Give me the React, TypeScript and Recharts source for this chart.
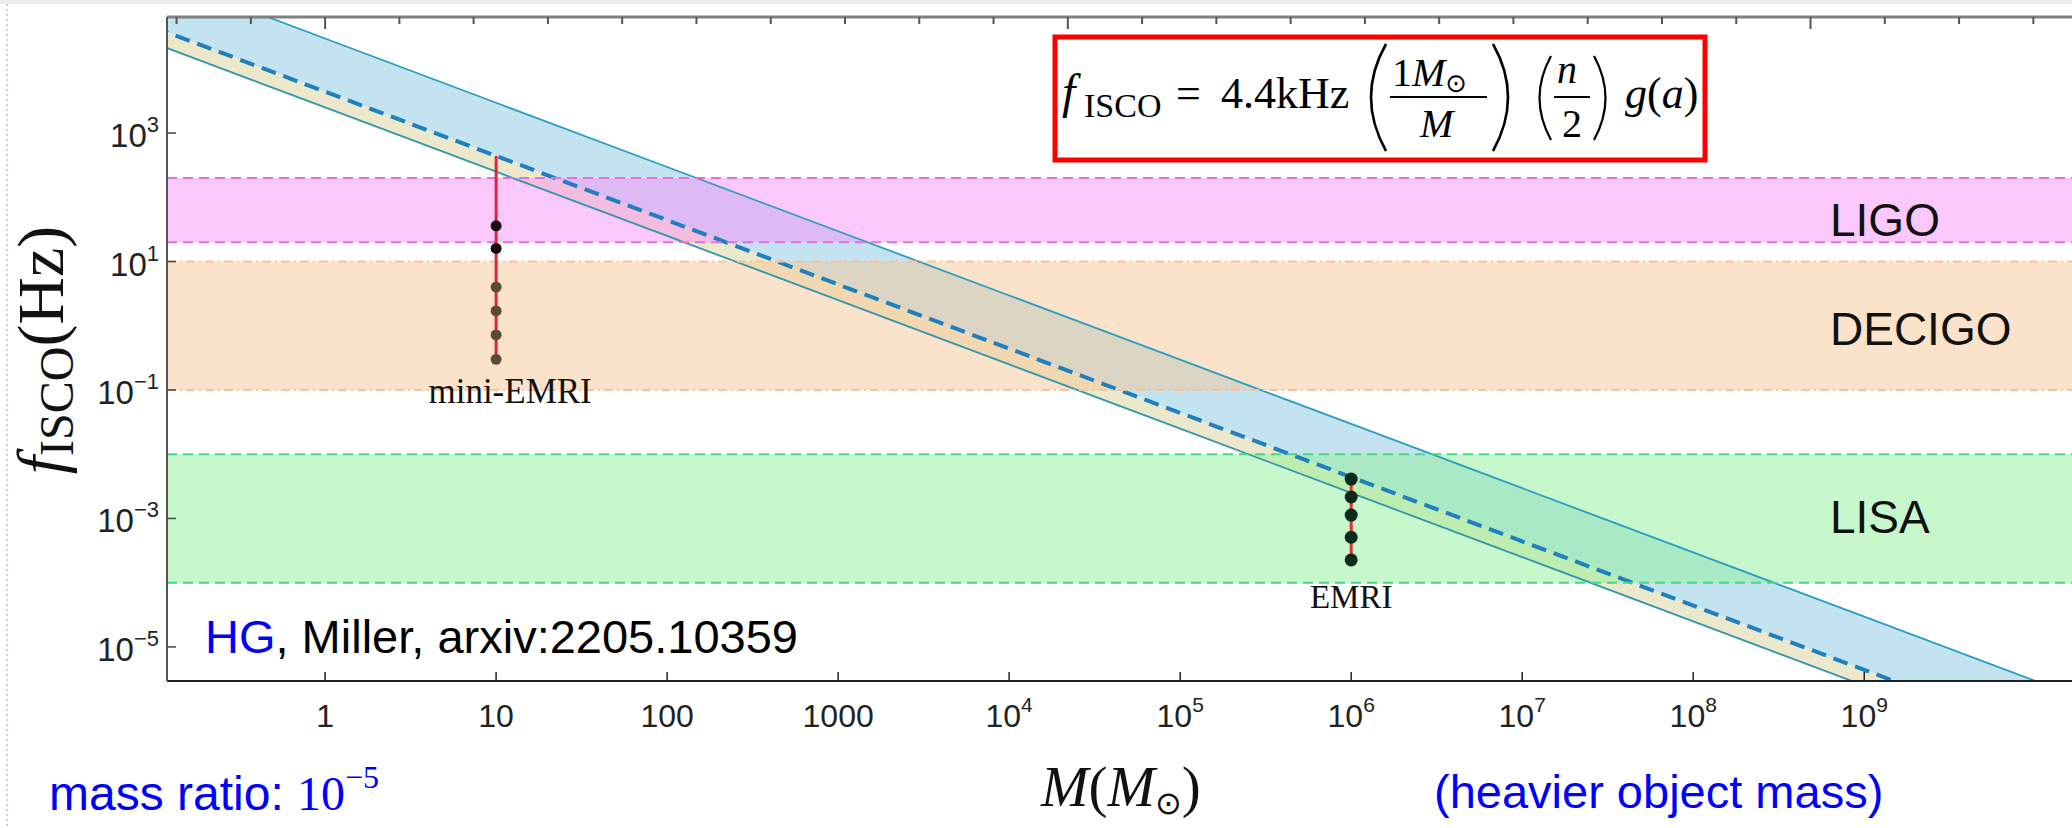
import React from 'react';
import {
  ComposedChart,
  XAxis,
  YAxis,
  Line,
  Area,
  Scatter,
  ReferenceArea,
  ReferenceLine,
  ReferenceDot,
} from 'recharts';

// ---------- data ----------
const massGrid = [0.1, 1, 10, 100, 1e3, 1e4, 1e5, 1e6, 1e7, 1e8, 1e9, 1e10, 1e11];
const upperEdge = [2.96e5, 2.96e4, 2960, 296, 29.6, 2.96, 0.296, 0.0296, 2.96e-3, 2.96e-4, 2.96e-5, 2.96e-6, 2.96e-7];
const dashedCurve = [4.4e4, 4400, 440, 44, 4.4, 0.44, 0.044, 4.4e-3, 4.4e-4, 4.4e-5, 4.4e-6, 4.4e-7, 4.4e-8];
const lowerEdge = [2.5e4, 2500, 250, 25, 2.5, 0.25, 0.025, 2.5e-3, 2.5e-4, 2.5e-5, 2.5e-6, 2.5e-7, 2.5e-8];

const detectorNames = ['LIGO', 'DECIGO', 'LISA'];
const detectorLow = [20, 0.1, 1e-4];
const detectorHigh = [200, 10, 1e-2];

const miniMass = 10;
const miniTopFreq = 440;
const miniFreqs = [36, 16, 4.0, 1.7, 0.72, 0.3];
const emriMass = 1e6;
const emriFreqs = [4.1e-3, 2.16e-3, 1.13e-3, 5.1e-4, 2.26e-4];

const xTickValues = [1, 10, 100, 1000, 1e4, 1e5, 1e6, 1e7, 1e8, 1e9];
const xTickBase = ['1', '10', '100', '1000', '10', '10', '10', '10', '10', '10'];
const xTickSup = ['', '', '', '', '4', '5', '6', '7', '8', '9'];
const yTickValues = [1e3, 10, 0.1, 1e-3, 1e-5];
const yTickSup = ['3', '1', '\u22121', '\u22123', '\u22125'];
const topTickExponents = [-2, -1, 0, 1, 2, 3, 4, 5, 6, 7, 8, 9, 10, 11, 12, 13, 14, 15, 16, 17, 18, 19, 20, 21, 22, 23];
const topMajorExponents = [0, 10, 20];

const xDomain = [0.119, 1.64e10];
const yDomain = [2.95e-6, 6.4e4];

// ---------- derived tables ----------
const bandData = massGrid.map((M, i) => ({
  M,
  upper: upperEdge[i],
  dash: dashedCurve[i],
  lower: lowerEdge[i],
  cream: [lowerEdge[i], dashedCurve[i]],
  blue: [dashedCurve[i], upperEdge[i]],
}));
const miniLine = [{ M: miniMass, f: miniTopFreq }, { M: miniMass, f: miniFreqs[miniFreqs.length - 1] }];
const miniDots = miniFreqs.map((f) => ({ M: miniMass, f }));
const emriLine = [{ M: emriMass, f: emriFreqs[0] }, { M: emriMass, f: emriFreqs[emriFreqs.length - 1] }];
const emriDots = emriFreqs.map((f) => ({ M: emriMass, f }));
const topTicks = topTickExponents.map((k) => Math.exp(k));

const detectorFill = ['#f791f7', '#f6c896', '#8ff199'];
const detectorStroke = ['#e070e0', '#f4c49c', '#45d889'];
const detectorDash = ['10 6', '9 4 2 4', '10 6'];

const SANS = 'Liberation Sans, Arial, Helvetica, sans-serif';
const SERIF = 'Liberation Serif, Times New Roman, serif';

const BottomTick = (props: any) => {
  const { x, y, index } = props;
  const base = xTickBase[index];
  const sup = xTickSup[index];
  return (
    <g>
      <line x1={x} x2={x} y1={y} y2={y - 9} stroke="#222" strokeWidth={1.5} />
      <text x={x} y={y + 46} textAnchor="middle" fontFamily={SANS} fontSize={32} fill="#222">
        {base}
        {sup ? (
          <tspan dy={-15} fontSize={21}>
            {sup}
          </tspan>
        ) : null}
      </text>
    </g>
  );
};

const LeftTick = (props: any) => {
  const { x, y, index } = props;
  return (
    <g>
      <line x1={x} x2={x + 9} y1={y} y2={y} stroke="#444" strokeWidth={1.5} />
      <text x={x - 8} y={y + 14} textAnchor="end" fontFamily={SANS} fontSize={33} fill="#222">
        10
        <tspan dy={-15} fontSize={22}>
          {yTickSup[index]}
        </tspan>
      </text>
    </g>
  );
};

const TopTick = (props: any) => {
  const { x, y, index } = props;
  const major = topMajorExponents.includes(topTickExponents[index]);
  return <line x1={x} x2={x} y1={y} y2={y + (major ? 12 : 7)} stroke="#555" strokeWidth={2} />;
};

const miniColors = ['#1a0a12', '#140a0e', '#5c4a38', '#5c4a38', '#5c4a38', '#5c4a38'];
const MiniDot = (props: any) => {
  const { cx, cy, index } = props;
  return <circle cx={cx} cy={cy} r={5.5} fill={miniColors[index] || '#5c4a38'} />;
};
const EmriDot = (props: any) => {
  const { cx, cy } = props;
  return <circle cx={cx} cy={cy} r={6.5} fill="#0d2b1c" />;
};

const labelBelow = (text: string, dx: number, dy: number, size: number) => (props: any) => {
  const vb = props.viewBox || {};
  const cx = (vb.x || 0) + (vb.width || 0) / 2;
  const cy = (vb.y || 0) + (vb.height || 0) / 2;
  return (
    <text x={cx + dx} y={cy + dy} textAnchor="middle" fontFamily={SERIF} fontSize={size} fill="#111">
      {text}
    </text>
  );
};

export default function App() {
  return (
    <div style={{ position: 'absolute', left: 0, top: 0, width: 2072, height: 828, background: '#fff', overflow: 'hidden' }}>
      <ComposedChart width={2072} height={828} margin={{ top: 0, right: 0, bottom: 87, left: 0 }}>
        <XAxis
          xAxisId={0}
          dataKey="M"
          type="number"
          scale="log"
          domain={xDomain}
          allowDataOverflow
          ticks={xTickValues}
          tick={<BottomTick />}
          tickLine={false}
          tickSize={0}
          tickMargin={0}
          height={60}
          axisLine={{ stroke: '#222', strokeWidth: 2 }}
          interval={0}
        />
        <XAxis
          xAxisId="top"
          orientation="top"
          dataKey="M"
          type="number"
          scale="log"
          domain={xDomain}
          allowDataOverflow
          ticks={topTicks}
          tick={<TopTick />}
          tickLine={false}
          tickSize={0}
          tickMargin={0}
          height={17}
          axisLine={{ stroke: '#808080', strokeWidth: 3 }}
          interval={0}
        />
        <YAxis
          type="number"
          scale="log"
          domain={yDomain}
          allowDataOverflow
          ticks={yTickValues}
          tick={<LeftTick />}
          tickLine={false}
          tickSize={0}
          tickMargin={0}
          width={167}
          axisLine={{ stroke: '#555', strokeWidth: 2 }}
          interval={0}
        />

        <Area data={bandData} dataKey="blue" type="linear" fill="#c3e3f0" fillOpacity={1} stroke="none" isAnimationActive={false} />
        <Area data={bandData} dataKey="cream" type="linear" fill="#ece8cb" fillOpacity={1} stroke="none" isAnimationActive={false} />

        {detectorNames.map((name, i) => (
          <ReferenceArea
            key={name}
            y1={detectorLow[i]}
            y2={detectorHigh[i]}
            fill={detectorFill[i]}
            fillOpacity={0.5}
            stroke="none"
          />
        ))}

        <Line data={bandData} dataKey="upper" type="linear" stroke="#2b9cc4" strokeWidth={1.8} dot={false} isAnimationActive={false} />
        <Line data={bandData} dataKey="lower" type="linear" stroke="#3396ac" strokeWidth={1.8} dot={false} isAnimationActive={false} />
        <Line data={bandData} dataKey="dash" type="linear" stroke="#1f7fbf" strokeWidth={4} strokeDasharray="15 8" dot={false} isAnimationActive={false} />

        {detectorNames.map((name, i) => (
          <ReferenceLine key={name + 'h'} y={detectorHigh[i]} stroke={detectorStroke[i]} strokeWidth={2} strokeDasharray={detectorDash[i]} />
        ))}
        {detectorNames.map((name, i) => (
          <ReferenceLine key={name + 'l'} y={detectorLow[i]} stroke={detectorStroke[i]} strokeWidth={2} strokeDasharray={detectorDash[i]} />
        ))}

        <Line data={miniLine} dataKey="f" type="linear" stroke="#e8203c" strokeWidth={3} dot={false} isAnimationActive={false} />
        <Line data={emriLine} dataKey="f" type="linear" stroke="#e03030" strokeWidth={3} dot={false} isAnimationActive={false} />
        <Scatter data={miniDots} dataKey="f" shape={<MiniDot />} isAnimationActive={false} />
        <Scatter data={emriDots} dataKey="f" shape={<EmriDot />} isAnimationActive={false} />

        <ReferenceDot x={miniMass} y={miniFreqs[miniFreqs.length - 1]} r={0} stroke="none" label={labelBelow('mini-EMRI', 14, 44, 35)} />
        <ReferenceDot x={emriMass} y={emriFreqs[emriFreqs.length - 1]} r={0} stroke="none" label={labelBelow('EMRI', 0, 48, 33)} />
      </ComposedChart>

      <svg width={2072} height={828} style={{ position: 'absolute', left: 0, top: 0, pointerEvents: 'none' }}>
        {/* slide frame */}
        <rect x={0} y={0} width={2072} height={4} fill="#ececec" />
        <line x1={7} x2={7} y1={4} y2={828} stroke="#9bb7d8" strokeWidth={1.2} strokeDasharray="2 3" />

        {/* formula box */}
        <rect x={1055} y={37} width={650} height={123} fill="#fff" stroke="#ff0000" strokeWidth={5} />
        <g fontFamily={SERIF} fill="#000">
          <text x={1062} y={108} fontSize={48} fontStyle="italic">f</text>
          <text x={1084} y={117} fontSize={34}>ISCO</text>
          <text x={1176} y={108} fontSize={44}>=</text>
          <text x={1221} y={108} fontSize={44}>4.4kHz</text>
          <path d="M1386 44 Q1356 97 1386 151" fill="none" stroke="#000" strokeWidth={2.6} />
          <text x={1392} y={86} fontSize={40}>
            1<tspan fontStyle="italic">M</tspan>
            <tspan fontFamily="DejaVu Sans" fontSize={26} dy={6}>{'\u2299'}</tspan>
          </text>
          <line x1={1390} x2={1487} y1={97} y2={97} stroke="#000" strokeWidth={2} />
          <text x={1420} y={137} fontSize={40} fontStyle="italic">M</text>
          <path d="M1493 44 Q1523 97 1493 151" fill="none" stroke="#000" strokeWidth={2.6} />
          <path d="M1551 56 Q1528 98 1551 140" fill="none" stroke="#000" strokeWidth={2.2} />
          <text x={1557} y={83} fontSize={40} fontStyle="italic">n</text>
          <line x1={1554} x2={1590} y1={97} y2={97} stroke="#000" strokeWidth={2} />
          <text x={1562} y={137} fontSize={40}>2</text>
          <path d="M1594 56 Q1617 98 1594 140" fill="none" stroke="#000" strokeWidth={2.2} />
          <text x={1625} y={108} fontSize={44}>
            <tspan fontStyle="italic">g</tspan>(<tspan fontStyle="italic">a</tspan>)
          </text>
        </g>

        {/* detector labels */}
        <g fontFamily={SANS} fontSize={46} fill="#111">
          <text x={1830} y={236}>{detectorNames[0]}</text>
          <text x={1830} y={345}>{detectorNames[1]}</text>
          <text x={1830} y={533}>{detectorNames[2]}</text>
        </g>

        {/* reference note */}
        <text x={205} y={653} fontFamily={SANS} fontSize={47} fill="#000">
          <tspan fill="#0000ff">HG</tspan>, Miller, arxiv:2205.10359
        </text>

        {/* y axis title */}
        <text transform="translate(63, 350) rotate(-90)" textAnchor="middle" fontFamily={SERIF} fill="#111">
          <tspan fontSize={66} fontStyle="italic">f</tspan>
          <tspan fontSize={48} dy={10}>ISCO</tspan>
          <tspan fontSize={66} dy={-10}>(Hz)</tspan>
        </text>

        {/* x axis title */}
        <text x={1041} y={806} fontFamily={SERIF} fill="#111" fontSize={57}>
          <tspan fontStyle="italic">M</tspan>(<tspan fontStyle="italic">M</tspan>
          <tspan fontFamily="DejaVu Sans" fontSize={32} dy={8}>{'\u2299'}</tspan>
          <tspan dy={-8}>)</tspan>
        </text>

        {/* bottom notes */}
        <text x={49} y={810} fill="#0000ff" fontSize={48}>
          <tspan fontFamily={SANS}>mass ratio: </tspan>
          <tspan fontFamily={SERIF}>10</tspan>
          <tspan fontFamily={SERIF} fontSize={32} dy={-22}>{'\u22125'}</tspan>
        </text>
        <text x={1434} y={808} fill="#0000ff" fontSize={47} fontFamily={SANS}>
          (heavier object mass)
        </text>
      </svg>
    </div>
  );
}
